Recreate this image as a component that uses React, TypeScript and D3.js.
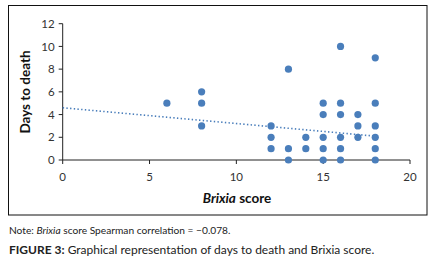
import React from "react";
import * as d3 from "d3";

const brixia = [6, 8, 8, 8, 12, 12, 12, 13, 13, 13, 14, 14, 15, 15, 15, 15, 15, 16, 16, 16, 16, 16, 16, 17, 17, 17, 18, 18, 18, 18, 18, 18];
const days = [5, 6, 5, 3, 3, 2, 1, 8, 1, 0, 2, 1, 5, 4, 2, 1, 0, 10, 5, 4, 2, 1, 0, 4, 3, 2, 9, 5, 3, 2, 1, 0];
const trendX = [0, 18];
const trendY = [4.6, 2.1];
const xTicks = [0, 5, 10, 15, 20];
const yTicks = [0, 2, 4, 6, 8, 10, 12];

const W = 435;
const H = 264;
const FONT = "Lato, 'Open Sans', sans-serif";

export default function App() {
  const x = d3.scaleLinear().domain([0, 20]).range([62.7, 410]);
  const y = d3.scaleLinear().domain([0, 12]).range([160, 23.7]);
  const line = d3
    .line<number>()
    .x((_, i) => x(trendX[i]))
    .y((d) => y(d));
  const blue = "#4a7ebb";
  const axisColor = "#222";
  return (
    <svg
      width={W}
      height={H}
      style={{ position: "fixed", left: 0, top: 0, background: "#fff" }}
      fontFamily={FONT}
    >
      <rect x={8.5} y={5.5} width={418.5} height={209.5} fill="none" stroke="#111" strokeWidth={1} />
      <line x1={x(0)} x2={x(0)} y1={y(12)} y2={y(0)} stroke={axisColor} strokeWidth={1} />
      <line x1={x(0)} x2={x(20)} y1={y(0)} y2={y(0)} stroke={axisColor} strokeWidth={1} />
      {yTicks.map((t) => (
        <g key={"y" + t}>
          <line x1={x(0) - 4} x2={x(0)} y1={y(t)} y2={y(t)} stroke={axisColor} />
          <text x={x(0) - 8} y={y(t)} dy="0.36em" textAnchor="end" fontSize={11.5} fill="#333">
            {t}
          </text>
        </g>
      ))}
      {xTicks.map((t) => (
        <g key={"x" + t}>
          <line x1={x(t)} x2={x(t)} y1={y(0)} y2={y(0) + 4} stroke={axisColor} />
          <text x={x(t)} y={y(0) + 21} textAnchor="middle" fontSize={11.5} fill="#333">
            {t}
          </text>
        </g>
      ))}
      <path d={line(trendY) || ""} fill="none" stroke={blue} strokeWidth={1.6} strokeDasharray="1.4,2.3" />
      {brixia.map((b, i) => (
        <circle key={i} cx={x(b)} cy={y(days[i])} r={3.6} fill={blue} />
      ))}
      <text x={237} y={203} textAnchor="middle" fontSize={13.5} fontWeight="bold" fill="#111">
        <tspan fontStyle="italic">Brixia</tspan> score
      </text>
      <text
        transform={`translate(30,92) rotate(-90)`}
        textAnchor="middle"
        fontSize={13.5}
        fontWeight="bold"
        fill="#111"
      >
        Days to death
      </text>
      <text x={9} y={233.5} fontSize={10.2} fill="#222">
        Note: <tspan fontStyle="italic">Brixia</tspan> score Spearman correlation = −0.078.
      </text>
      <text x={9} y={254} fontSize={12} fill="#222">
        <tspan fontWeight="bold">FIGURE 3:</tspan> Graphical representation of days to death and Brixia score.
      </text>
    </svg>
  );
}
